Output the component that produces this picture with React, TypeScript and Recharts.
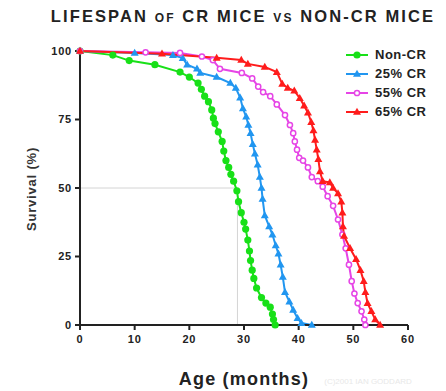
import { LineChart, Line, XAxis, YAxis, ReferenceLine } from 'recharts'

const xTicks = [0, 10, 20, 30, 40, 50, 60]
const yTicks = [0, 25, 50, 75, 100]
const medianAge = 28.8

// [age in months, survival %]
const nonCR = [
  [0, 100], [6, 98.5], [9, 96.5], [13.7, 95], [18.3, 92.3], [20, 90.5], [21.6, 88.3], [22.2, 86],
  [22.8, 83.5], [23.5, 81.5], [24.1, 78.5], [24.4, 75.5], [24.7, 73.5], [25.3, 70.5], [26, 67],
  [26.3, 63.5], [26.7, 60], [27.2, 57.5], [27.6, 55], [28.1, 52.5], [28.7, 49], [29, 45], [29.5, 41],
  [30, 37.5], [30.3, 35], [30.7, 31], [31, 27], [31.2, 23.5], [31.5, 20], [31.8, 17], [32.3, 13.5],
  [33.2, 10], [34, 8], [34.8, 6.5], [35.2, 4], [35.4, 2], [35.7, 0],
]
const cr25 = [
  [0, 100], [10, 99.3], [17, 98.5], [18.8, 97.4], [19.6, 95], [21.4, 93.5], [22, 92], [25, 90.5],
  [27.5, 88.3], [28.5, 86.5], [29.3, 83], [29.8, 79], [30.4, 76], [30.8, 73], [31.2, 70], [31.6, 66],
  [32, 62.5], [32.5, 58.5], [32.9, 54], [33.2, 50], [33.4, 46], [33.8, 40], [34.6, 36], [35.2, 33],
  [35.8, 29], [36.3, 26], [36.7, 22], [37.1, 17.5], [37.5, 12], [38.3, 8.5], [39, 5.5], [39.8, 2.5],
  [40.5, 0.7], [42.4, 0],
]
const cr55 = [
  [0, 100], [12, 99.5], [18.3, 99.3], [22.3, 98], [24.3, 96.7], [25.6, 93.5], [29.6, 92], [31.5, 90],
  [32.6, 87], [33.5, 85], [34.8, 83.5], [36, 80.5], [37.5, 76.6], [38.4, 73], [39, 70], [39.3, 67],
  [39.7, 64], [40.1, 61], [40.8, 60], [41.7, 57.5], [42.4, 54], [43.5, 52.5], [44.4, 50.5], [45.3, 47],
  [46.3, 43.5], [47.2, 38.5], [48, 33], [48.6, 28], [49.2, 22], [49.7, 16], [50.2, 11.5], [50.8, 8],
  [51.5, 5], [52, 2], [52.2, 0],
]
const cr65 = [
  [0, 100], [15, 99], [25, 97.5], [29.5, 96.7], [30.7, 95.3], [33.8, 94.2], [36, 92.3], [37, 88],
  [38, 86.5], [39.2, 85.5], [40.2, 82.8], [41, 80], [41.7, 77.5], [42.3, 74], [42.7, 71], [43, 67.5],
  [43.3, 64], [43.6, 60.5], [43.9, 56], [44.4, 52.5], [45.7, 52], [46.3, 50], [47.2, 48], [47.8, 45],
  [48, 41], [48.1, 36], [48.3, 32.5], [49.4, 28], [50.5, 24], [51.3, 20], [51.9, 16], [52.2, 12],
  [52.6, 8], [53.3, 5], [54, 2], [54.9, 0],
]

const toRows = (pts) => pts.map(([age, survival]) => ({ age, survival }))

const series = [
  { name: 'Non-CR', data: toRows(nonCR), color: '#18e018', shape: 'circle' },
  { name: '25% CR', data: toRows(cr25), color: '#2196f0', shape: 'triangle' },
  { name: '55% CR', data: toRows(cr55), color: '#e645e6', shape: 'ring' },
  { name: '65% CR', data: toRows(cr65), color: '#ff1c1c', shape: 'triangle' },
]

const Marker = ({ cx, cy, shape, color }) => {
  if (cx == null || cy == null) return null
  if (shape === 'circle') return <circle cx={cx} cy={cy} r={3.6} fill={color} />
  if (shape === 'ring') return <circle cx={cx} cy={cy} r={2.6} fill="#fff" stroke={color} strokeWidth={1.5} />
  return <path d={`M${cx},${cy - 4.2}L${cx + 4},${cy + 2.8}L${cx - 4},${cy + 2.8}Z`} fill={color} />
}

const tickStyle = { fontSize: 11, fontWeight: 'bold', fill: '#222', letterSpacing: 0.8 }

export default function App() {
  return (
    <div
      style={{
        position: 'absolute',
        left: 0,
        top: 0,
        width: 446,
        height: 391,
        background: '#fff',
        fontFamily: '"Liberation Sans", Arial, sans-serif',
      }}
    >
      <div
        style={{
          position: 'absolute',
          left: 43,
          width: 400,
          top: 7,
          textAlign: 'center',
          fontSize: 16.5,
          fontWeight: 'bold',
          letterSpacing: 2.1,
          fontVariant: 'small-caps',
          color: '#222',
          whiteSpace: 'nowrap',
        }}
      >
        LIFESPAN of CR MICE vs NON-CR MICE
      </div>
      <LineChart width={446} height={391} margin={{ top: 51, right: 38, bottom: 36, left: 20 }}>
        <XAxis
          type="number"
          dataKey="age"
          domain={[0, 60]}
          ticks={xTicks}
          height={30}
          tickSize={5}
          tickMargin={5}
          tick={tickStyle}
          axisLine={{ stroke: '#222', strokeWidth: 2 }}
          tickLine={{ stroke: '#222', strokeWidth: 2 }}
          allowDuplicatedCategory={false}
        />
        <YAxis
          type="number"
          dataKey="survival"
          domain={[0, 100]}
          ticks={yTicks}
          width={60}
          tickSize={5}
          tickMargin={3}
          tick={tickStyle}
          axisLine={{ stroke: '#222', strokeWidth: 2 }}
          tickLine={{ stroke: '#222', strokeWidth: 2 }}
        />
        <ReferenceLine segment={[{ x: 0, y: 50 }, { x: medianAge, y: 50 }]} stroke="#d4d4d4" strokeWidth={1} />
        <ReferenceLine segment={[{ x: medianAge, y: 0 }, { x: medianAge, y: 50 }]} stroke="#d4d4d4" strokeWidth={1} />
        {series.map((s) => (
          <Line
            key={s.name}
            name={s.name}
            data={s.data}
            dataKey="survival"
            type="linear"
            stroke={s.color}
            strokeWidth={2}
            isAnimationActive={false}
            dot={(p) => <Marker key={`${s.name}-${p.index}`} cx={p.cx} cy={p.cy} shape={s.shape} color={s.color} />}
            activeDot={false}
          />
        ))}
      </LineChart>
      <div style={{ position: 'absolute', left: 345, top: 45 }}>
        {series.map((s) => (
          <div key={s.name} style={{ display: 'flex', alignItems: 'center', height: 19 }}>
            <svg width={24} height={12}>
              <line x1={1} y1={6} x2={23} y2={6} stroke={s.color} strokeWidth={2} />
              <Marker cx={12} cy={6} shape={s.shape} color={s.color} />
            </svg>
            <span style={{ marginLeft: 6, fontSize: 13, fontWeight: 'bold', color: '#222', letterSpacing: 0.5 }}>
              {s.name}
            </span>
          </div>
        ))}
      </div>
      <div
        style={{
          position: 'absolute',
          left: 31,
          top: 189,
          transform: 'translate(-50%, -50%) rotate(-90deg)',
          fontSize: 13,
          fontWeight: 'bold',
          color: '#333',
          letterSpacing: 0.8,
          whiteSpace: 'nowrap',
        }}
      >
        Survival (%)
      </div>
      <div
        style={{
          position: 'absolute',
          left: 244,
          top: 379,
          transform: 'translate(-50%, -50%)',
          fontSize: 18,
          fontWeight: 'bold',
          color: '#222',
          letterSpacing: 1.2,
          whiteSpace: 'nowrap',
        }}
      >
        Age (months)
      </div>
      <div
        style={{
          position: 'absolute',
          left: 368,
          top: 381,
          transform: 'translate(-50%, -50%)',
          fontSize: 8,
          color: '#e8e8e8',
          whiteSpace: 'nowrap',
        }}
      >
        (C)2001 IAN GODDARD
      </div>
    </div>
  )
}
